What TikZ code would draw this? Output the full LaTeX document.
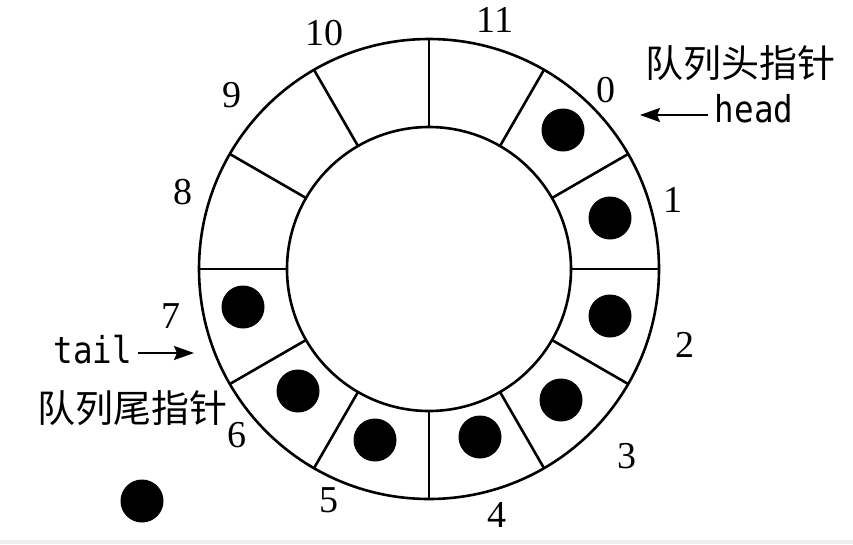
\documentclass[tikz,border=0pt]{standalone}
\usepackage{fontspec}
\setmainfont{Liberation Serif}
\newfontfamily\cjk{Noto Sans CJK SC}
\newfontfamily\monof[FakeStretch=0.88]{DejaVu Sans Mono}
\usetikzlibrary{arrows.meta}
\begin{document}
\begin{tikzpicture}[x=1pt,y=-1pt,
  num/.style={font=\fontsize{38}{38}\selectfont, inner sep=0},
  cn/.style={font=\cjk\fontsize{38}{38}\selectfont, inner sep=0},
  code/.style={font=\monof\fontsize{37}{37}\selectfont, inner sep=0, anchor=base},
  dot/.style={circle, fill=black, minimum size=43pt, inner sep=0},
  ring/.style={line width=2.6pt},
  ptr/.style={line width=2.2pt, -{Stealth[length=20pt,width=14pt,inset=3pt]}}]
\useasboundingbox (0,0) rectangle (853,544);
\fill[black!7] (0,540) rectangle (853,544);
\coordinate (c) at (429,269);
\draw[ring] (c) circle[radius=230pt];
\draw[ring] (c) circle[radius=142pt];
\foreach \a in {0,30,...,330} \draw[ring, shift={(c)}] (\a:142) -- (\a:230);
% dots
\node[dot] (d0) at (563,130) {};
\node[dot] (d1) at (610,218) {};
\node[dot] (d2) at (610,316) {};
\node[dot] (d3) at (561,400) {};
\node[dot] (d4) at (480,437) {};
\node[dot] (d5) at (375,440) {};
\node[dot] (d6) at (298,391) {};
\node[dot] (d7) at (243,307) {};
\node[dot] (dx) at (142,501) {};
% numbers
\node[num] (n0) at (606,90) {0};
\node[num] (n1) at (673,200) {1};
\node[num] (n2) at (685,345) {2};
\node[num] (n3) at (627,456) {3};
\node[num] (n4) at (497,515) {4};
\node[num] (n5) at (329,500) {5};
\node[num] (n6) at (237,435) {6};
\node[num] (n7) at (171,316) {7};
\node[num] (n8) at (183,192) {8};
\node[num] (n9) at (232,95) {9};
\node[num] (n10) at (324,33) {10};
\node[num] (n11) at (495,20) {11};
% pointers
\node[cn] (hl) at (740,63) {队列头指针};
\node[code] (head) at (754,122) {head};
\coordinate (hs) at (708,115);
\coordinate (he) at (640,115);
\draw[ptr] (hs) -- (he);
\node[code] (tail) at (93,363) {tail};
\coordinate (ts) at (138,353);
\coordinate (te) at (194,353);
\draw[ptr] (ts) -- (te);
\node[cn] (tl) at (132,408) {队列尾指针};
\end{tikzpicture}
\end{document}
